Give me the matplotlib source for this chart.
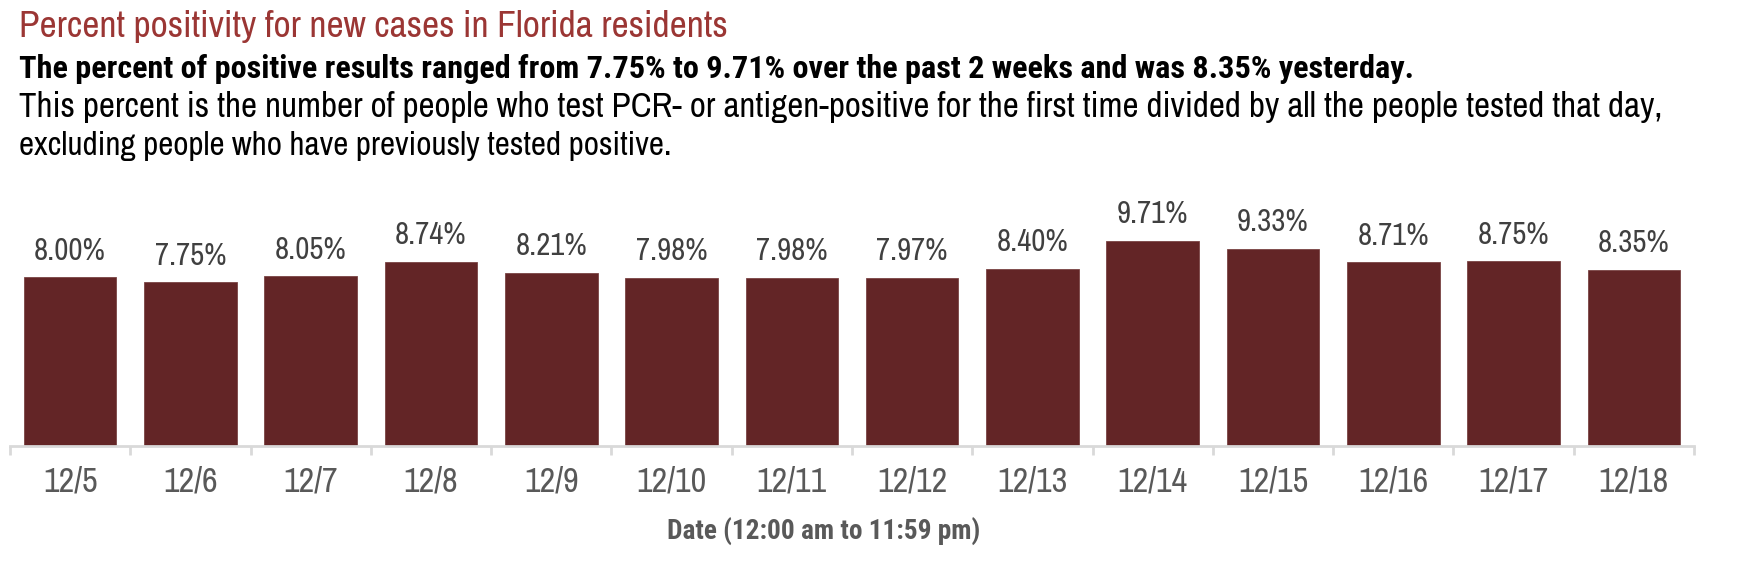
import matplotlib
matplotlib.use("Agg")
import matplotlib.pyplot as plt
from matplotlib import font_manager

dates = ["12/5", "12/6", "12/7", "12/8", "12/9", "12/10", "12/11",
         "12/12", "12/13", "12/14", "12/15", "12/16", "12/17", "12/18"]
positivity = [8.00, 7.75, 8.05, 8.74, 8.21, 7.98, 7.98,
              7.97, 8.40, 9.71, 9.33, 8.71, 8.75, 8.35]

title = "Percent positivity for new cases in Florida residents"
subtitle = "The percent of positive results ranged from 7.75% to 9.71% over the past 2 weeks and was 8.35% yesterday."
desc1 = "This percent is the number of people who test PCR- or antigen-positive for the first time divided by all the people tested that day,"
desc2 = "excluding people who have previously tested positive."
xlabel = "Date (12:00 am to 11:59 pm)"

fl = font_manager.fontManager.ttflist
names = {f.name for f in fl}
FONT = "Archivo Narrow" if "Archivo Narrow" in names else "DejaVu Sans"
BOLD = FONT
if not any(f.name == FONT and int(f.weight) >= 600 for f in fl):
    for cand in ["Roboto Condensed", "PT Sans Narrow", "Barlow Semi Condensed", "DejaVu Sans"]:
        if any(f.name == cand and int(f.weight) >= 600 for f in fl):
            BOLD = cand
            break
plt.rcParams["font.family"] = [FONT, "DejaVu Sans"]

W, H = 1745, 561
fig = plt.figure(figsize=(W / 100, H / 100), dpi=100)
renderer = fig.canvas.get_renderer()

def fit(t, target_w):
    bb = t.get_window_extent(renderer=renderer)
    t.set_fontsize(t.get_fontsize() * target_w / bb.width)

def ftext(x, y, s, target_w, **kw):
    t = fig.text(x / W, 1 - y / H, s, fontsize=10, va="baseline", ha="left", **kw)
    fit(t, target_w)
    return t

ftext(19, 37, title, 712, color="#9B3634")
ftext(19, 78, subtitle, 1401, color="#000000", fontweight="bold", family=[BOLD, "DejaVu Sans"])
ftext(19, 117, desc1, 1650, color="#000000")
ftext(19, 155, desc2, 656, color="#000000")

left, right, base = 10, 1694, 446
ppp = 21.1
ymax = 10.5
ax = fig.add_axes([left / W, (H - base) / H, (right - left) / W, ymax * ppp / H])
x = list(range(len(dates)))
ax.bar(x, positivity, width=0.77, color="#632526", edgecolor="#7a4444", linewidth=0.6)
ax.set_xlim(-0.5, len(dates) - 0.5)
ax.set_ylim(0, ymax)
for s in ["top", "right", "left"]:
    ax.spines[s].set_visible(False)
ax.spines["bottom"].set_color("#d9d9d9")
ax.spines["bottom"].set_linewidth(2)
ax.set_yticks([])
ax.set_xticks(x)
ax.set_xticklabels(dates, color="#595959")
ax.tick_params(axis="x", which="major", length=0, pad=32.9)
ax.set_xticks([i - 0.5 for i in range(len(dates) + 1)], minor=True)
ax.tick_params(axis="x", which="minor", length=6.5, width=2, color="#d9d9d9")

lab0 = ax.get_xticklabels()[-1]
lab0.set_fontsize(10)
bb = lab0.get_window_extent(renderer=renderer)
tick_fs = 10 * 70 / bb.width
for lab in ax.get_xticklabels():
    lab.set_fontsize(tick_fs)
    lab.set_va("baseline")

probe = fig.text(0, 0, "8.35%", fontsize=10)
bb = probe.get_window_extent(renderer=renderer)
val_fs = 10 * 71 / bb.width
probe.remove()

for xi, v in zip(x, positivity):
    ax.annotate(f"{v:.2f}%", (xi, v), xytext=(0, 12.7), textcoords="offset points",
                ha="center", va="baseline", color="#404040", fontsize=val_fs)

xl = fig.text(824 / W, 1 - 540 / H, xlabel, ha="center", va="baseline",
              color="#595959", fontweight="bold", fontsize=10, family=[BOLD, "DejaVu Sans"])
fit(xl, 315)

fig.savefig("out.png", dpi=100)
